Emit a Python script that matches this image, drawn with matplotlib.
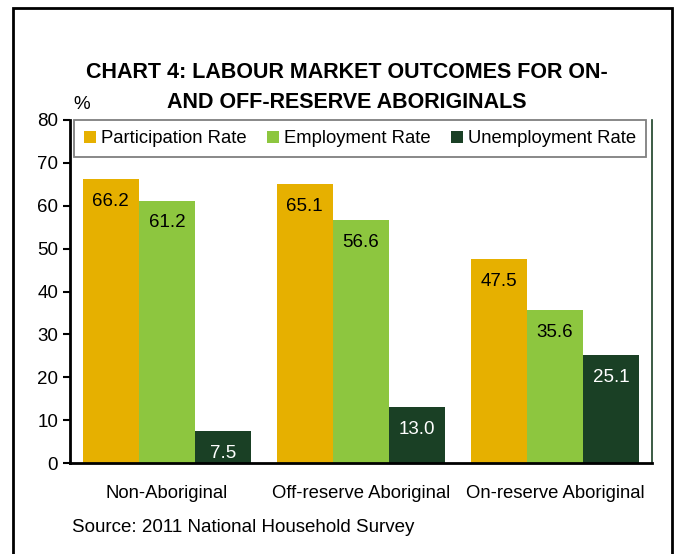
import matplotlib.pyplot as plt
import numpy as np
from matplotlib.patches import Rectangle

plt.rcParams['font.family'] = ['Liberation Sans', 'DejaVu Sans']

categories = ['Non-Aboriginal', 'Off-reserve Aboriginal', 'On-reserve Aboriginal']
series = ['Participation Rate', 'Employment Rate', 'Unemployment Rate']
participation = [66.2, 65.1, 47.5]
employment = [61.2, 56.6, 35.6]
unemployment = [7.5, 13.0, 25.1]
colors = ['#E6B000', '#8DC63F', '#1A4025']
label_colors = ['black', 'black', 'white']

fig = plt.figure(figsize=(6.81, 5.54), dpi=100)
# outer frame around the chart
fig.patches.append(Rectangle((13 / 681, -0.05), 659 / 681, 1.05 - 8 / 554,
                             transform=fig.transFigure, fill=False,
                             edgecolor='black', linewidth=2))

ax = fig.add_axes([70 / 681, 1 - 463 / 554, 582 / 681, 343 / 554])

x = np.arange(len(categories))
w = 0.29
for i, (vals, c, lc) in enumerate(zip([participation, employment, unemployment],
                                       colors, label_colors)):
    bars = ax.bar(x + (i - 1) * w, vals, w, color=c, label=series[i])
    for b, v in zip(bars, vals):
        ax.text(b.get_x() + b.get_width() / 2, v - 3.2, f'{v:.1f}',
                ha='center', va='top', fontsize=13.5, color=lc)

ax.set_xlim(-0.5, 2.5)
ax.set_ylim(0, 80)
ax.set_yticks(range(0, 81, 10))
ax.set_xticks(x)
ax.set_xticklabels(categories, fontsize=13.3)
ax.tick_params(axis='y', labelsize=13.5, direction='out', length=5, width=1.5)
ax.tick_params(axis='x', length=0, pad=16)
ax.spines['left'].set_linewidth(2)
ax.spines['bottom'].set_linewidth(2)
ax.spines['top'].set_visible(False)
ax.spines['right'].set_color('#1A4025')
ax.spines['right'].set_linewidth(1.2)

leg = ax.legend(loc='upper left', bbox_to_anchor=(0.007, 1.0), ncol=3,
                fontsize=13.3, frameon=True, fancybox=False, edgecolor='#606060',
                handlelength=0.64, handleheight=0.64, handletextpad=0.27,
                columnspacing=1.1, borderpad=0.55, borderaxespad=0)
leg.get_frame().set_linewidth(1.3)

ax.text(0.005, 1.02, '%', transform=ax.transAxes, fontsize=13.5, ha='left', va='bottom')

fig.text(347 / 681, 1 - 73 / 554, 'CHART 4: LABOUR MARKET OUTCOMES FOR ON-',
         ha='center', va='center', fontsize=15.5, fontweight='bold')
fig.text(347 / 681, 1 - 102 / 554, 'AND OFF-RESERVE ABORIGINALS',
         ha='center', va='center', fontsize=15.5, fontweight='bold')
fig.text(72 / 681, 1 - 528 / 554, 'Source: 2011 National Household Survey',
         ha='left', va='center', fontsize=13.5)

fig.savefig('out.png', dpi=100)
